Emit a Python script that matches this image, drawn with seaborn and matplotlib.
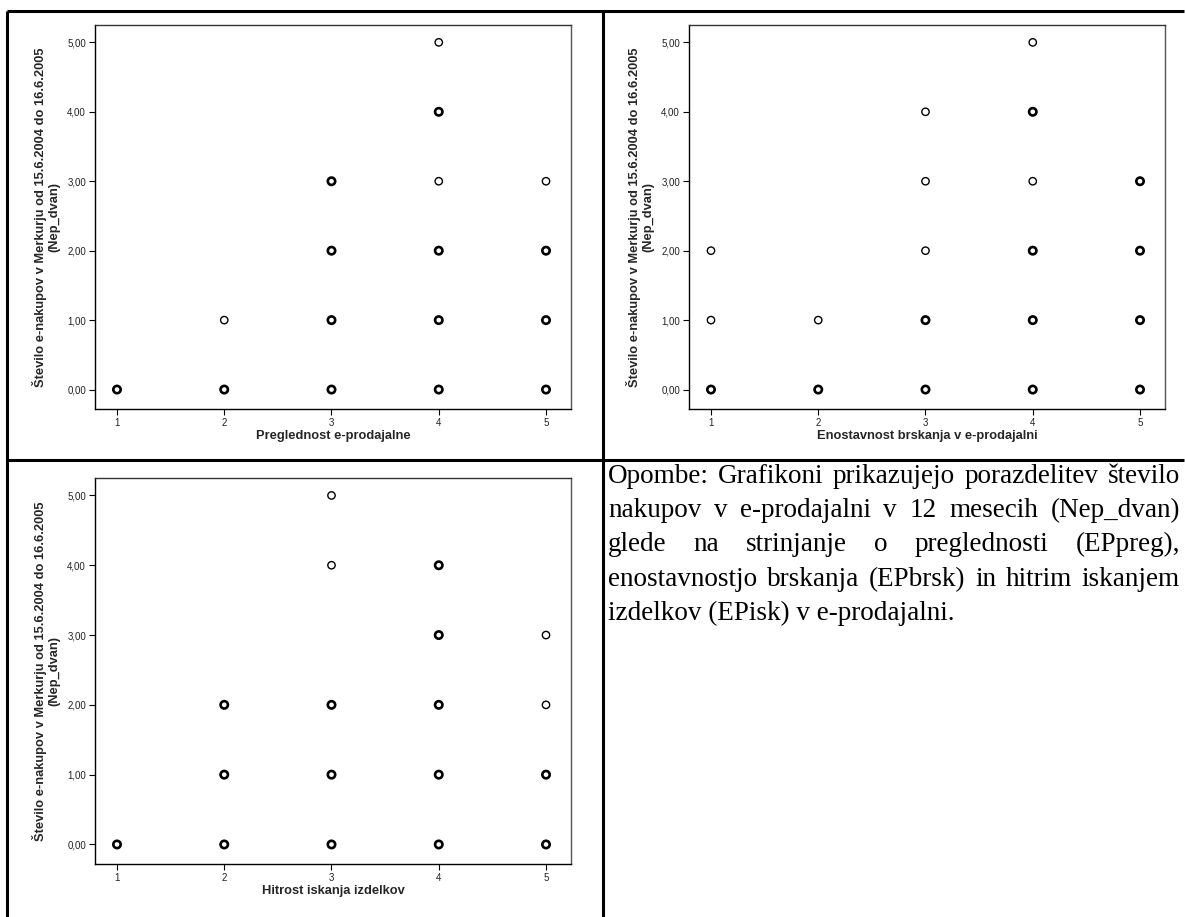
import matplotlib
matplotlib.use("Agg")
import matplotlib.pyplot as plt
import seaborn as sns
import pandas as pd
from matplotlib.lines import Line2D

sns.set_theme(style="white")
plt.rcParams["font.family"] = ["Liberation Sans", "DejaVu Sans"]

# Response scale and purchase counts
scale_ticks = [1, 2, 3, 4, 5]
count_ticks = [0, 1, 2, 3, 4, 5]
count_labels = ["0,00", "1,00", "2,00", "3,00", "4,00", "5,00"]
y_title = "Število e-nakupov v Merkurju od 15.6.2004 do 16.6.2005\n(Nep_dvan)"

# Preglednost e-prodajalne (EPpreg): observed combinations, overlap 2 = several cases
preg_x = [1, 2, 2, 3, 3, 3, 3, 4, 4, 4, 4, 4, 4, 5, 5, 5, 5]
preg_y = [0, 0, 1, 0, 1, 2, 3, 0, 1, 2, 3, 4, 5, 0, 1, 2, 3]
preg_n = [2, 2, 1, 2, 2, 2, 2, 2, 2, 2, 1, 2, 1, 2, 2, 2, 1]

# Enostavnost brskanja (EPbrsk)
brsk_x = [1, 1, 1, 2, 2, 3, 3, 3, 3, 3, 4, 4, 4, 4, 4, 4, 5, 5, 5, 5]
brsk_y = [0, 1, 2, 0, 1, 0, 1, 2, 3, 4, 0, 1, 2, 3, 4, 5, 0, 1, 2, 3]
brsk_n = [2, 1, 1, 2, 1, 2, 2, 1, 1, 1, 2, 2, 2, 1, 2, 1, 2, 2, 2, 2]

# Hitrost iskanja izdelkov (EPisk)
isk_x = [1, 2, 2, 2, 3, 3, 3, 3, 3, 4, 4, 4, 4, 4, 5, 5, 5, 5]
isk_y = [0, 0, 1, 2, 0, 1, 2, 4, 5, 0, 1, 2, 3, 4, 0, 1, 2, 3]
isk_n = [2, 2, 2, 2, 2, 2, 2, 1, 1, 2, 2, 2, 2, 2, 2, 2, 1, 1]

panels = [
    ("Preglednost e-prodajalne", preg_x, preg_y, preg_n),
    ("Enostavnost brskanja v e-prodajalni", brsk_x, brsk_y, brsk_n),
    ("Hitrost iskanja izdelkov", isk_x, isk_y, isk_n),
]

note_lines = [
    "Opombe: Grafikoni prikazujejo porazdelitev število",
    "nakupov v e-prodajalni v 12 mesecih (Nep_dvan)",
    "glede na strinjanje o preglednosti (EPpreg),",
    "enostavnostjo brskanja (EPbrsk) in hitrim iskanjem",
    "izdelkov (EPisk) v e-prodajalni.",
]

W, H = 1185, 917
fig = plt.figure(figsize=(W / 100, H / 100), dpi=100)
fig.patch.set_facecolor("white")


def px_rect(left, top, right, bottom):
    return [left / W, 1 - bottom / H, (right - left) / W, (bottom - top) / H]


axes_rects = [
    px_rect(95, 25, 571, 409),
    px_rect(689, 25, 1165, 409),
    px_rect(95, 478, 571, 864),
]

for (xlabel, xs, ys, ns), rect in zip(panels, axes_rects):
    ax = fig.add_axes(rect)
    df = pd.DataFrame({"x": xs, "y": ys, "n": ns})
    for lw, sub in ((1.0, df[df.n == 1]), (1.9, df[df.n > 1])):
        sns.scatterplot(data=sub, x="x", y="y", ax=ax, marker="o", s=28,
                        facecolor="none", edgecolor="black", linewidth=lw,
                        legend=False, zorder=3)
    ax.set_xlim(0.795, 5.233)
    ax.set_ylim(-0.28, 5.25)
    ax.set_xticks(scale_ticks)
    ax.set_xticklabels([str(t) for t in scale_ticks])
    ax.set_yticks(count_ticks)
    ax.set_yticklabels(count_labels)
    ax.tick_params(axis="both", which="both", direction="out", length=4.5,
                   width=0.8, color="black", labelsize=7, pad=2,
                   labelcolor="#222222", bottom=True, left=True)
    for side in ("left", "bottom", "top", "right"):
        ax.spines[side].set_visible(True)
        ax.spines[side].set_color("black")
        ax.spines[side].set_linewidth(1.0)
    ax.spines["right"].set_color("#555555")
    ax.spines["top"].set_color("#333333")
    ax.set_xlabel(xlabel, fontsize=9.3, fontweight="bold")
    ax.set_ylabel(y_title, fontsize=9.3, fontweight="bold", linespacing=1.2)
    ax.yaxis.set_label_coords(-0.072, 0.5)
    ax.xaxis.set_label_coords(0.5, -0.055)
    ax.grid(False)
    ax.set_facecolor("white")

# Table grid around the three charts and the note
grid_kw = dict(color="black", linewidth=2.2, solid_capstyle="butt",
               transform=fig.transFigure)
fig.add_artist(Line2D([7 / W, 1184 / W], [1 - 11 / H, 1 - 11 / H], **grid_kw))
fig.add_artist(Line2D([7 / W, 1184 / W], [1 - 460 / H, 1 - 460 / H], **grid_kw))
fig.add_artist(Line2D([7 / W, 7 / W], [1 - 11 / H, 0], **grid_kw))
fig.add_artist(Line2D([603 / W, 603 / W], [1 - 11 / H, 0], **grid_kw))

# Justified note in the fourth cell
renderer = fig.canvas.get_renderer()
text_left, text_right = 608, 1180
baselines = [483, 517, 551, 586, 620]
note_kw = dict(fontsize=19.5, family=["Liberation Serif", "DejaVu Serif"],
               color="black", va="baseline", ha="left")
for i, (line, base) in enumerate(zip(note_lines, baselines)):
    yb = 1 - base / H
    words = line.split(" ")
    if i == len(note_lines) - 1:
        fig.text(text_left / W, yb, line, **note_kw)
        continue
    arts = [fig.text(0, yb, w, **note_kw) for w in words]
    widths = [a.get_window_extent(renderer).width for a in arts]
    gap = (text_right - text_left - sum(widths)) / (len(words) - 1)
    xpos = text_left
    for a, wdt in zip(arts, widths):
        a.set_x(xpos / W)
        xpos += wdt + gap

fig.savefig("out.png", dpi=100, facecolor="white")
